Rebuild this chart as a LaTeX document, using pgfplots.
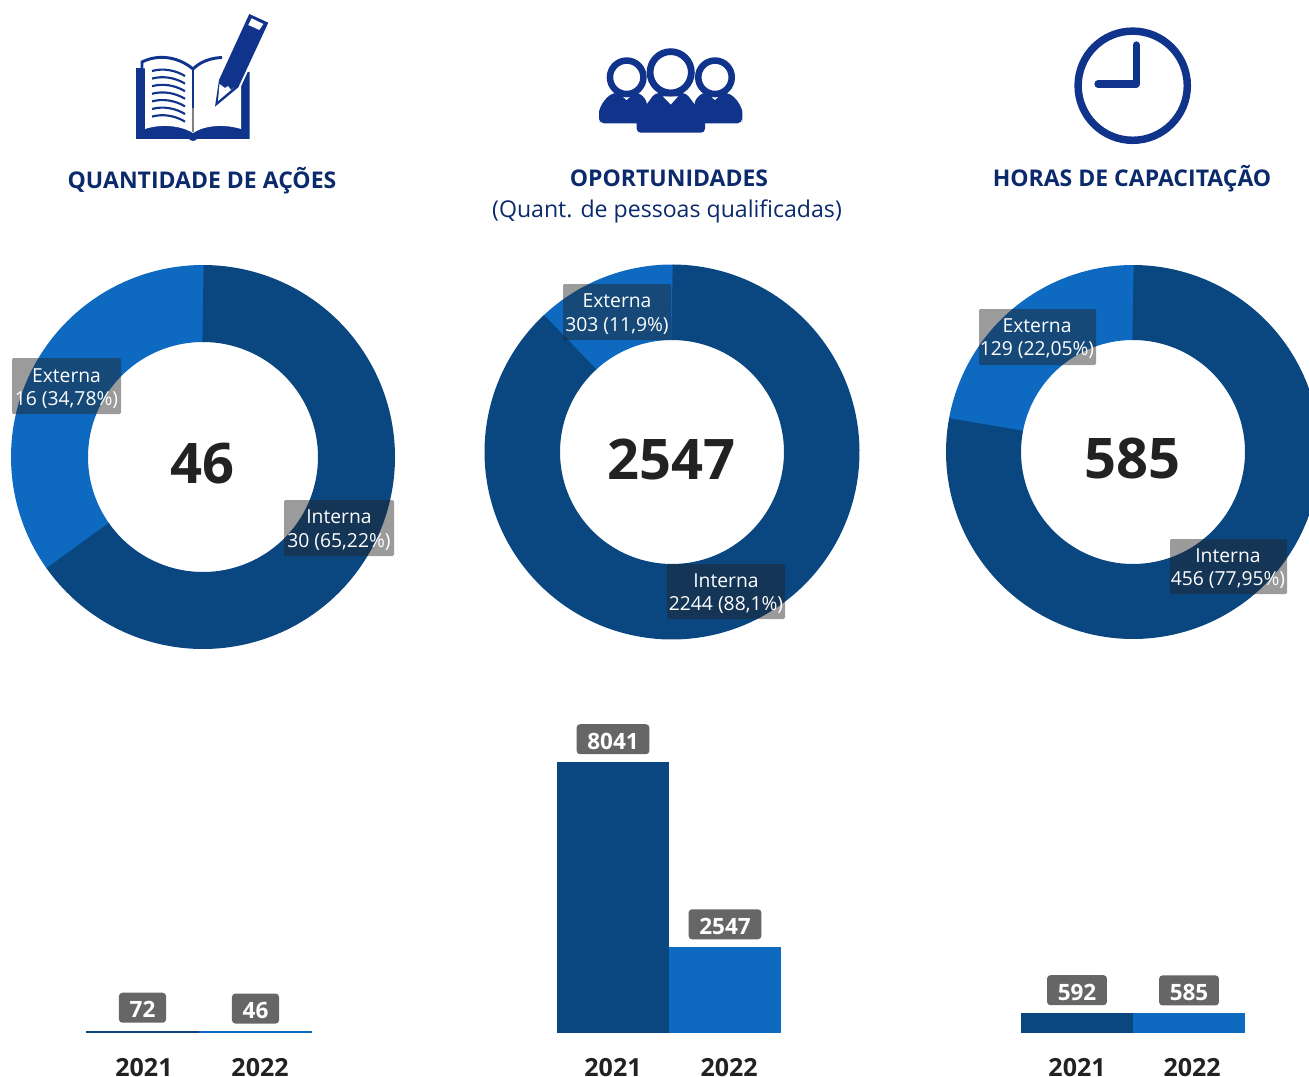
\documentclass[border=0pt]{standalone}
\usepackage{fontspec}
\setmainfont{Open Sans}
\usepackage{pgfplots}
\pgfplotsset{compat=1.18}
\definecolor{dk}{HTML}{0A4780}
\definecolor{lt}{HTML}{0D6AC0}
\definecolor{ic}{HTML}{10338C}
\definecolor{tt}{HTML}{0B2A6B}
\definecolor{nm}{HTML}{222222}
\newcommand\pxf[1]{\pgfmathsetmacro\tmpf{#1*0.75}\fontsize{\tmpf}{\tmpf}\selectfont}
% donut: cx cy R r interna externa
\newcommand\donut[6]{%
\pgfmathsetmacro\ang{90-#5/(#5+#6)*360}%
\pgfmathsetmacro\rm{(#3+#4)/2}%
\pgfmathsetmacro\lw{(#3-#4)*0.75}%
\begin{axis}[at={(#1*0.75pt,-#2*0.75pt)},anchor=center,x=0.75pt,y=0.75pt,
  xmin=-200,xmax=200,ymin=-200,ymax=200,hide axis,clip=false]
\addplot[lt,line width=\lw pt,no markers,domain=89.5:\ang+360.5,samples=100] ({\rm*cos(x)},{\rm*sin(x)});
\addplot[dk,line width=\lw pt,no markers,domain=\ang:90,samples=150] ({\rm*cos(x)},{\rm*sin(x)});
\end{axis}}
% bars: left unit v1 v2 tick1 tick2
\newcommand\barchart[6]{%
\pgfmathsetmacro\un{#2*0.75}%
\begin{axis}[at={(#1*0.75pt,-1033*0.75pt)},anchor=south west,x=\un pt,y=0.02527pt,
  xmin=-0.5,xmax=1.5,ymin=0,ymax=9000,
  ybar,bar width=\un pt,bar shift=0pt,
  axis line style={draw=none},ytick=\empty,
  xtick={#5,#6},xticklabels={2021,2022},major tick length=0pt,
  xticklabel style={anchor=center,inner sep=0pt,yshift=-26.25pt,font=\pxf{25}\bfseries,text=nm},
  clip=false,
  /pgf/number format/assume math mode=true,
  /pgf/number format/1000 sep={},
  nodes near coords,
  every node near coord/.style={fill=black!60,text=white,font=\pxf{22.5}\bfseries,rounded corners=2.5pt,
     anchor=south,inner xsep=8pt,inner ysep=0pt,text height=15pt,text depth=0pt,minimum height=22.5pt,yshift=5.7pt}]
\addplot[fill=dk,draw=none] coordinates {(0,#3)};
\addplot[fill=lt,draw=none] coordinates {(1,#4)};
\end{axis}}
\newcommand\tip[4]{%
\fill[black!87,fill opacity=.45,rounded corners=1pt] (#1,#2) rectangle (#3,#4);
}
\newcommand\tiptxt[5]{%
\node[text=white,font=\pxf{19.3}] at (#1,#2+1) {#4};
\node[text=white,font=\pxf{19.3}] at (#1,#3+1.5) {#5};
}
\begin{document}
\begin{tikzpicture}
\path[use as bounding box] (0,0) rectangle (1309*0.75pt,-1077*0.75pt);
% ---- icons ----
\begin{scope}[x=0.75pt,y=-0.75pt]
% book
\fill[ic] (136,68) -- (136,139) -- (189,139) .. controls (191,141.5) and (195,141.5) .. (197,139) -- (249.5,139) -- (249.5,72) -- cycle;
\fill[white] (145,63) .. controls (160,56) and (180,60) .. (193,70) .. controls (205,62) and (225,55) .. (241,60) -- (241,129) .. controls (225,124) and (205,125) .. (193,133) .. controls (180,125) and (160,124) .. (145,129) -- cycle;
\draw[ic,line width=2.2pt] (142,68) -- (142,62) .. controls (160,53) and (180,58) .. (193,69) .. controls (200,62) and (210,58) .. (222,57.5);
\fill[ic] (191.7,69) rectangle (194,108);
\draw[gray,line width=0.8pt] (193,108) -- (193,132);
\foreach \yy in {0,7.6,15.2,22.8,30.4,38,45.6}{
\draw[ic,line width=1.6pt] (152,71+\yy) .. controls (163,68+\yy) and (175,70+\yy) .. (185,76+\yy);}
% pencil
\draw[white,line width=3pt,fill=white] (249.3,14) -- (268.3,22.7) -- (238.3,87.3) -- (215,106.7) -- (219,80) -- cycle;
\fill[ic] (249.3,14) -- (268.3,22.7) -- (238.3,87.3) -- (215,106.7) -- (219,80) -- cycle;
\fill[white] (251.7,18.3) -- (263.3,24) -- (259.3,30) -- (248.3,25) -- cycle;
\fill[white] (219.5,84) -- (225,88) -- (228,86) -- (231,90) -- (234,87.5) -- (218,101) -- cycle;
% people
\begin{scope}
\fill[ic,rounded corners=4pt] (599,123.5) -- (599,118) .. controls (599,108) and (605,97) .. (617,92) -- (638,92) -- (647,100) -- (647,123.5) -- cycle;
\fill[ic,rounded corners=4pt] (742.4,123.5) -- (742.4,118) .. controls (742.4,108) and (736.4,97) .. (724.4,92) -- (703.4,92) -- (694.4,100) -- (694.4,123.5) -- cycle;
\fill[ic,rounded corners=3pt] (636.7,132.7) -- (636.7,118) -- (655,93) -- (686,93) -- (705,118) -- (705,132.7) -- cycle;
\fill[white] (622,96) -- (631,96) -- (626.5,100) -- cycle;
\fill[white] (710.4,96) -- (719.4,96) -- (714.9,100) -- cycle;
\fill[white] (663,96.5) -- (678,96.5) -- (670.7,104.5) -- cycle;
\fill[white] (637.5,91) -- (646.5,99.5) -- (655,91) -- cycle;
\fill[white] (703.9,91) -- (694.9,99.5) -- (686.4,91) -- cycle;
\draw[ic,fill=white,line width=4.9pt] (626.7,77.3) circle (16.75);
\draw[ic,fill=white,line width=4.9pt] (715,77.3) circle (16.75);
\draw[ic,fill=white,line width=5.1pt] (670.7,72.3) circle (20.65);
\end{scope}
% clock
\draw[ic,line width=5.6pt] (1132.7,85.7) circle (54.6);
\draw[ic,line width=5.5pt,line cap=round,line join=round] (1136.3,45) -- (1136.3,84) -- (1098,84);
% titles
\node[text=tt,font=\pxf{23}\bfseries] at (202,180.5) {QUANTIDADE DE AÇÕES};
\node[text=tt,font=\pxf{23}\bfseries] at (669,178.5) {OPORTUNIDADES};
\node[text=tt,font=\pxf{23.1}] at (667,211.5) {(Quant. de pessoas qualificadas)};
\node[text=tt,font=\pxf{23}\bfseries] at (1132,178.5) {HORAS DE CAPACITAÇÃO};
\end{scope}
% ---- donuts ----
\donut{203}{457}{192}{115}{30}{16}
\donut{672}{452}{187.5}{112}{2244}{303}
\donut{1133}{452}{187}{112}{456}{129}
% ---- bars ----
\barchart{86}{113}{72}{46}{0.013}{1.04}
\barchart{557}{112}{8041}{2547}{0}{1.036}
\barchart{1021}{112}{592}{585}{0}{1.027}
% ---- labels ----
\begin{scope}[x=0.75pt,y=-0.75pt]
\node[text=nm,font=\pxf{56}\bfseries] at (202,464) {46};
\node[text=nm,font=\pxf{56}\bfseries] at (671,459) {2547};
\node[text=nm,font=\pxf{56}\bfseries] at (1132,459) {585};
\tip{12}{358}{121}{414}
\tiptxt{66.5}{375}{399}{Externa}{16 (34,78\%)}
\tip{284}{500}{394}{556}
\tiptxt{339}{516}{541}{Interna}{30 (65,22\%)}
\tip{563}{284}{671}{340}
\tiptxt{617}{300}{325}{Externa}{303 (11,9\%)}
\tip{667}{564}{785}{619}
\tiptxt{726}{580}{604}{Interna}{2244 (88,1\%)}
\tip{979}{309}{1096}{365}
\tiptxt{1037}{325}{349}{Externa}{129 (22,05\%)}
\tip{1170}{539}{1287}{594}
\tiptxt{1228}{555}{579}{Interna}{456 (77,95\%)}
\end{scope}
\end{tikzpicture}
\end{document}
